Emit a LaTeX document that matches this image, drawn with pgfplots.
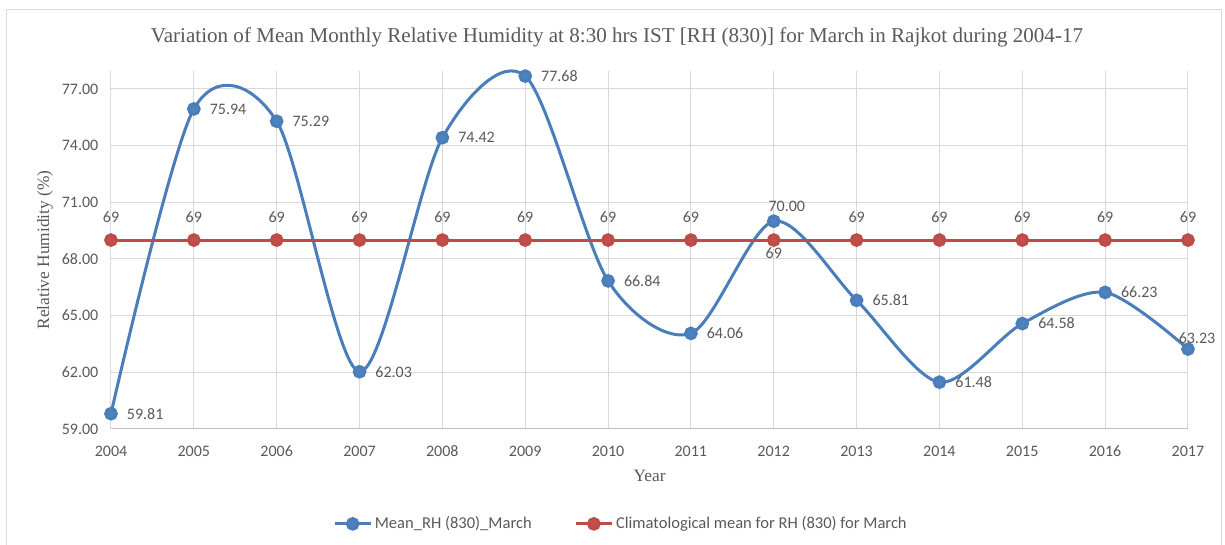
\documentclass[border=0pt]{standalone}
\usepackage{pgfplots}
\pgfplotsset{compat=1.18}
\usepackage{fontspec}
\setmainfont{Liberation Serif}
\newfontfamily\calibri{Carlito}
\definecolor{txt}{HTML}{595959}
\definecolor{blueL}{HTML}{4A7EBB}
\definecolor{blueM}{HTML}{4F81BD}
\definecolor{redL}{HTML}{BE4B48}
\definecolor{redM}{HTML}{C0504D}
\definecolor{gridc}{HTML}{D9D9D9}
\definecolor{axc}{HTML}{BFBFBF}
\begin{document}
\begin{tikzpicture}
\begin{axis}[
  name=ax, at={(0,0)}, anchor=south west,
  scale only axis,
  width=807.75pt, height=268.5pt,
  xmin=2004, xmax=2017, ymin=59, ymax=77.95,
  xtick={2004,...,2017},
  ytick={59,62,...,77},
  /pgf/number format/assume math mode=true,
  x tick label style={/pgf/number format/1000 sep={}, font=\calibri\fontsize{12}{14}\selectfont, text=txt, yshift=-9pt},
  y tick label style={/pgf/number format/fixed, /pgf/number format/fixed zerofill, /pgf/number format/precision=2, font=\calibri\fontsize{12}{14}\selectfont, text=txt, xshift=-6pt},
  major tick length=0pt,
  axis x line*=bottom, axis y line*=left,
  x axis line style={draw=axc, line width=0.75pt, -},
  y axis line style={draw=none},
  grid=major, grid style={draw=gridc, line width=0.75pt},
  clip=false,
  legend columns=2,
  legend style={at={(0.4738,-0.265)}, anchor=center, draw=none, fill=none,
    font=\calibri\fontsize{12.4}{14}\selectfont, text=txt,
    /tikz/every odd column/.append style={column sep=0pt},
    /tikz/every even column/.append style={column sep=30pt}},
  legend image code/.code={
    \draw[#1, mark=none] (0pt,0pt) -- (27pt,0pt);
    \draw[#1, only marks] plot coordinates {(13.5pt,0pt)};},
  nodes near coords,
  visualization depends on={value \thisrow{anc}\as\myanc},
  visualization depends on={value \thisrow{dx}\as\mydx},
  visualization depends on={value \thisrow{dy}\as\mydy},
  nodes near coords style={font=\calibri\fontsize{12}{14}\selectfont, text=txt,
    anchor=\myanc, xshift=\mydx pt, yshift=\mydy pt},
]
\addplot[smooth, color=blueL, line width=2.25pt, mark=*, mark size=4pt,
  mark options={solid, fill=blueM, draw=none},
  point meta=explicit symbolic,
] table[meta=lab] {
x y lab anc dx dy
2004 59.81 59.81 west 7.5 0
2005 75.94 75.94 west 7.5 0
2006 75.29 75.29 west 7.5 0
2007 62.03 62.03 west 7.5 0
2008 74.42 74.42 west 7.5 0
2009 77.68 77.68 west 7.5 0
2010 66.84 66.84 west 7.5 0
2011 64.06 64.06 west 7.5 0
2012 70.00 70.00 center 9.75 11.25
2013 65.81 65.81 west 7.5 0
2014 61.48 61.48 west 7.5 0
2015 64.58 64.58 west 7.5 0
2016 66.23 66.23 west 7.5 0
2017 63.23 63.23 center 6.75 8.25
};
\addlegendentry{Mean\_RH (830)\_March}
\addplot[color=redL, line width=2.25pt, mark=*, mark size=4pt,
  mark options={solid, fill=redM, draw=none},
  point meta=explicit symbolic,
] table[meta=lab] {
x y lab anc dx dy
2004 69 69 center 0 17.25
2005 69 69 center 0 17.25
2006 69 69 center 0 17.25
2007 69 69 center 0 17.25
2008 69 69 center 0 17.25
2009 69 69 center 0 17.25
2010 69 69 center 0 17.25
2011 69 69 center 0 17.25
2012 69 69 center 0 -9.75
2013 69 69 center 0 17.25
2014 69 69 center 0 17.25
2015 69 69 center 0 17.25
2016 69 69 center 0 17.25
2017 69 69 center 0 17.25
};
\addlegendentry{Climatological mean for RH (830) for March}
\end{axis}
\node[text=txt, font=\fontsize{15.8}{18}\selectfont] at (379.5pt,294pt)
  {Variation of Mean Monthly Relative Humidity at 8:30 hrs IST [RH (830)] for March in Rajkot during 2004-17};
\node[text=txt, font=\fontsize{13}{15}\selectfont, rotate=90] at (-49.5pt,134.25pt) {Relative Humidity (\%)};
\node[text=txt, font=\fontsize{13}{15}\selectfont] at (404pt,-35.25pt) {Year};
\pgfresetboundingbox
\useasboundingbox (-83.25pt,-87pt) rectangle (835.5pt,321.75pt);
\draw[draw=gridc, line width=0.75pt] (-78pt,-87pt) -- (-78pt,314.25pt) -- (832.5pt,314.25pt) -- (832.5pt,-87pt);
\end{tikzpicture}
\end{document}
